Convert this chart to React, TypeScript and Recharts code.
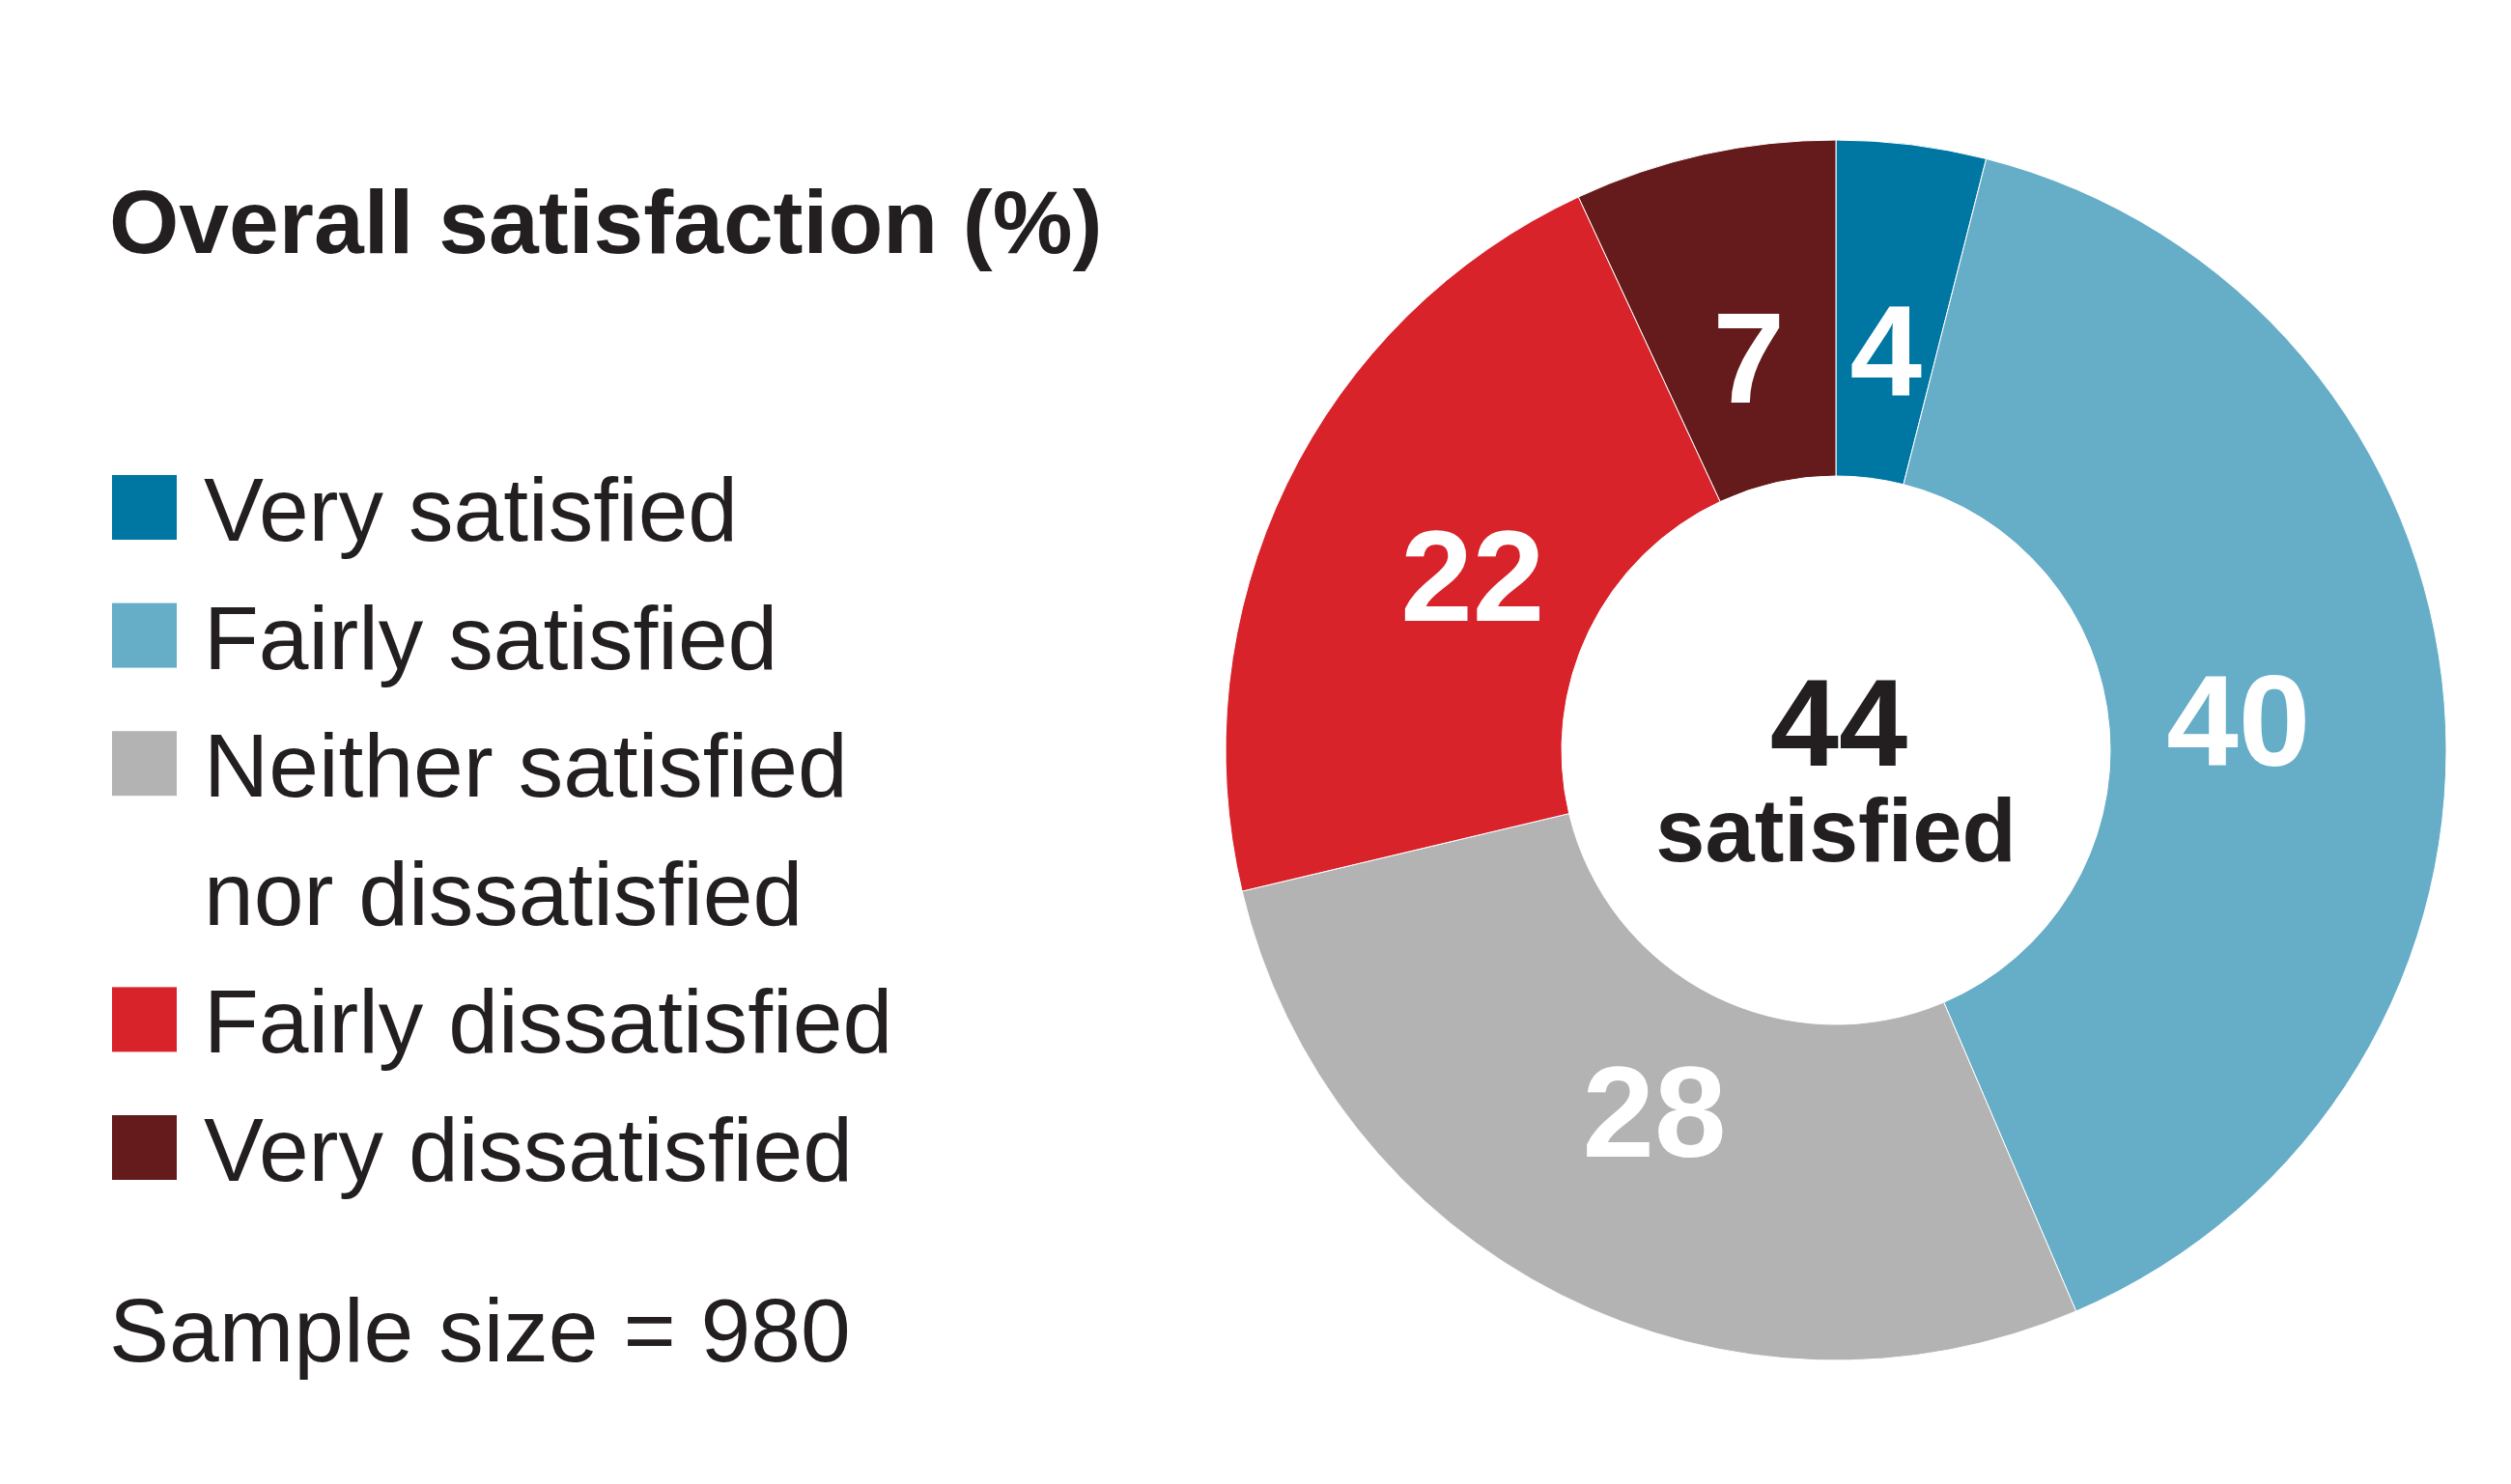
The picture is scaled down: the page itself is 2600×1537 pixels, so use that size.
import { PieChart, Pie, Cell, Legend, Label } from "recharts";

const categories = [
    "Very satisfied",
    "Fairly satisfied",
    "Neither satisfied nor dissatisfied",
    "Fairly dissatisfied",
    "Very dissatisfied",
];
const shares = [4, 40, 28, 22, 7];
const sliceColors = ["#0077a3", "#66adc8", "#b3b3b3", "#d8232a", "#651b1b"];
const satisfiedTotal = 44;
const sampleSize = 980;
const chartTitle = "Overall satisfaction (%)";

const FONT = '"Liberation Sans", Arial, Helvetica, sans-serif';
const INK = "#231f20";
const RAD = Math.PI / 180;

const chartData = categories.map((name, i) => ({ name, value: shares[i] }));

const renderSliceLabel = (props: any) => {
    const { cx, cy, midAngle, value } = props;
    const r = 418;
    const x = cx + r * Math.cos(-midAngle * RAD);
    const y = cy + r * Math.sin(-midAngle * RAD);
    return (
        <text
            x={x}
            y={y + 48}
            fill="#ffffff"
            textAnchor="middle"
            fontFamily={FONT}
            fontWeight="bold"
            fontSize={134}
        >
            {value}
        </text>
    );
};

const renderCenter = (props: any) => {
    const vb = props.viewBox || {};
    const cx = vb.cx ?? 1901;
    const cy = vb.cy ?? 777;
    return (
        <g>
            <text x={cx + 3} y={cy + 16} textAnchor="middle" fill={INK}
                fontFamily={FONT} fontWeight="bold" fontSize={128}>
                {satisfiedTotal}
            </text>
            <text x={cx} y={cy + 115} textAnchor="middle" fill={INK}
                fontFamily={FONT} fontWeight="bold" fontSize={92}>
                satisfied
            </text>
        </g>
    );
};

const SideLegend = (props: any) => {
    // keep the slice order, legend sorts by name otherwise
    const payload = [...(props.payload ?? [])].sort(
        (a: any, b: any) => categories.indexOf(a.value) - categories.indexOf(b.value)
    );
    const rowStep = 132.6;
    let row = 0;
    const rows: any[] = [];
    payload.forEach((entry: any, i: number) => {
        const label: string = entry.value ?? categories[i];
        const cut = label.indexOf(" nor ");
        const parts = cut >= 0 ? [label.slice(0, cut), label.slice(cut + 1)] : [label];
        const base = 560 + row * rowStep;
        rows.push(
            <g key={label}>
                <rect x={116} y={base - 68} width={67} height={67} fill={entry.color ?? sliceColors[i]} />
                {parts.map((p, j) => (
                    <text key={p} x={211} y={base + j * rowStep} fill={INK}
                        fontFamily={FONT} fontSize={93}>
                        {p}
                    </text>
                ))}
            </g>
        );
        row += parts.length;
    });
    return (
        <svg width={1200} height={1537}>
            <text x={113} y={262} fill={INK} fontFamily={FONT} fontWeight="bold" fontSize={93}>
                {chartTitle}
            </text>
            {rows}
            <text x={113} y={1410} fill={INK} fontFamily={FONT} fontSize={93}>
                Sample size = {sampleSize}
            </text>
        </svg>
    );
};

const App = () => {
    return (
        <div style={{ position: "absolute", left: 0, top: 0, width: 2600, height: 1537, background: "#ffffff" }}>
            <PieChart width={2600} height={1537} margin={{ top: 0, right: 0, bottom: 0, left: 0 }}>
                <Pie
                    data={chartData}
                    dataKey="value"
                    nameKey="name"
                    cx={1901}
                    cy={777}
                    innerRadius={284}
                    outerRadius={632}
                    startAngle={90}
                    endAngle={-270}
                    stroke="#ffffff"
                    strokeWidth={1}
                    label={renderSliceLabel}
                    labelLine={false}
                    isAnimationActive={false}
                >
                    {chartData.map((d, i) => (
                        <Cell key={d.name} fill={sliceColors[i]} />
                    ))}
                    <Label position="center" content={renderCenter} />
                </Pie>
                <Legend
                    content={SideLegend}
                    wrapperStyle={{ position: "absolute", left: 0, top: 0, width: 1200, height: 1537 }}
                />
            </PieChart>
        </div>
    );
};

export default App;
